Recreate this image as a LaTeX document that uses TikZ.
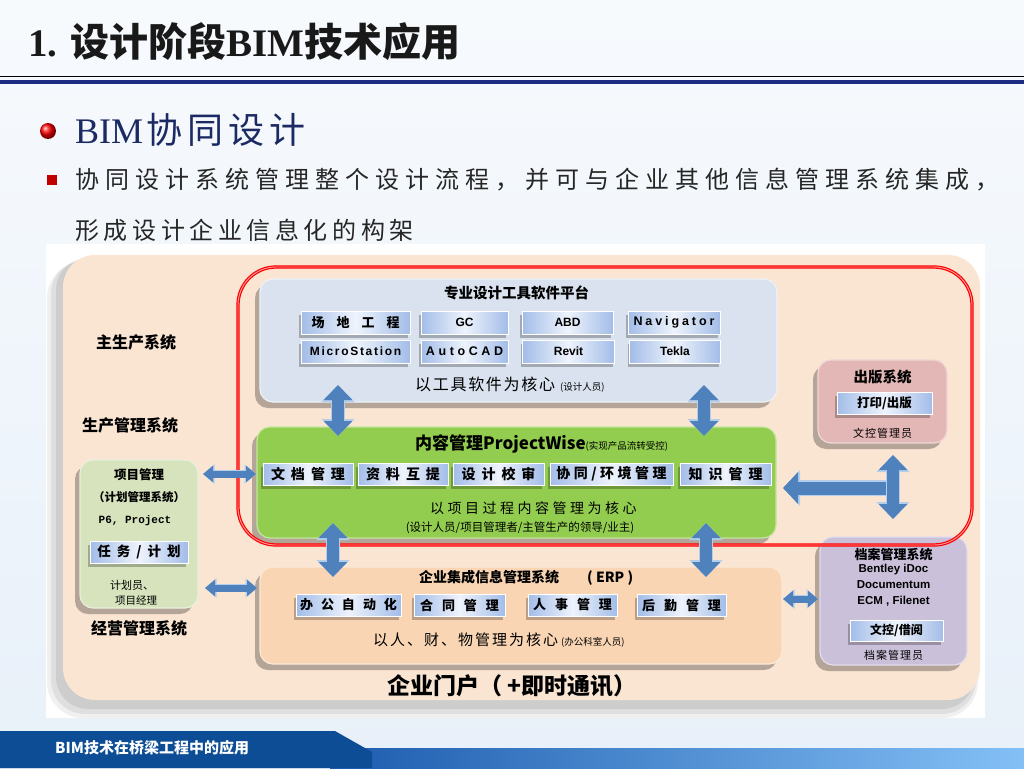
\documentclass[tikz,border=0pt]{standalone}
\usepackage{fontspec}
\setmainfont{Noto Sans CJK SC}
\newfontfamily\lserif{Liberation Serif}
\newfontfamily\lsans{Liberation Sans}
\newfontfamily\lmono{Liberation Mono}
\usetikzlibrary{arrows.meta,shadows}
\newcommand\fsz[1]{\fontsize{#1}{#1}\selectfont}
\newlength\myls
\def\myspc#1#2{\myls=#1\relax\myspcA#2\relax}
\def\myspcA#1{\ifx\relax#1\kern-\myls\else#1\kern\myls\expandafter\myspcA\fi}
\definecolor{bgtop}{HTML}{F7FAFD}
\definecolor{bgbot}{HTML}{E8F0F9}
\definecolor{navyline}{HTML}{1C2C82}
\definecolor{navytxt}{HTML}{1B2A62}
\definecolor{txtgray}{HTML}{262626}
\definecolor{sqred}{HTML}{C00000}
\definecolor{peach}{HTML}{FAE5D3}
\definecolor{toolbox}{HTML}{D9E2EE}
\definecolor{greenbox}{HTML}{92CD4F}
\definecolor{greenedge}{HTML}{C3E59C}
\definecolor{erpbox}{HTML}{F9D5B4}
\definecolor{pubbox}{HTML}{E3B7B6}
\definecolor{archbox}{HTML}{CBC0DA}
\definecolor{pmbox}{HTML}{D6E3BD}
\definecolor{btnedge}{HTML}{A3BDE8}
\definecolor{btnmid}{HTML}{EEF3FC}
\definecolor{arrowblue}{HTML}{4F81BD}
\definecolor{arrowedge}{HTML}{B3CDEB}
\definecolor{redpink}{HTML}{FF9C9C}
\definecolor{footdark}{HTML}{0D4D95}
\definecolor{footmid}{HTML}{1D5CAE}
\definecolor{footlight}{HTML}{84C0F6}
\tikzset{
  box/.style={rounded corners=13pt, line width=1.2pt, inner sep=0pt,
    drop shadow={shadow xshift=-5pt, shadow yshift=-6pt, opacity=0.28, fill=black}},
  btn/.style={draw=white, line width=0.5pt, left color=btnedge, right color=btnedge,
    middle color=btnmid, inner sep=0pt, minimum height=22pt, font=\bfseries, text=black,
    drop shadow={shadow xshift=-2pt, shadow yshift=-4pt, opacity=0.25, fill=black}},
  lbl/.style={inner sep=0pt, text=black},
  bigarr/.style={draw=arrowblue, line width=12pt,
    {Triangle[width=28pt,length=15pt]}-{Triangle[width=28pt,length=15pt]},
    preaction={draw=arrowedge, line width=14.5pt,
      {Triangle[width=32pt,length=17pt]}-{Triangle[width=32pt,length=17pt]}}},
  smallarr/.style={draw=arrowblue, line width=7pt,
    {Triangle[width=16pt,length=10pt]}-{Triangle[width=16pt,length=10pt]},
    preaction={draw=arrowedge, line width=8.5pt,
      {Triangle[width=19pt,length=11.5pt]}-{Triangle[width=19pt,length=11.5pt]}}},
  onearr/.style={draw=arrowblue, line width=13pt, -{Triangle[width=31pt,length=15pt]},
    preaction={draw=arrowedge, line width=15.5pt, -{Triangle[width=35pt,length=17pt]}}}
}
\begin{document}
\begin{tikzpicture}[x=1pt,y=-1pt]
\useasboundingbox (0,0) rectangle (1024,768);
% slide background
\shade[top color=bgtop, bottom color=bgbot] (0,0) rectangle (1024,768);
% title
\node[lbl, anchor=west, text=black!90] (title) at (28,42)
  {\fsz{39}\bfseries{\lserif 1. }设计阶段{\lserif BIM}技术应用};
\draw[black, line width=1.2pt] (0,76.5) -- (1024,76.5);
\draw[navyline, line width=4pt] (0,81.5) -- (1024,81.5);
% heading and bullet text
\shade[ball color=red] (48,131) circle (8);
\node[lbl, anchor=west, text=navytxt] (h2) at (75,130)
  {\fsz{36}{\lserif BIM}\kern3pt\myspc{5pt}{协同设计}};
\fill[sqred] (47,175) rectangle (57,185);
\node[lbl, anchor=west, text=txtgray] (p1) at (75,180)
  {\fsz{24}\myspc{6pt}{协同设计系统管理整个设计流程，并可与企业其他信息管理系统集成，}};
\node[lbl, anchor=west, text=txtgray] (p2) at (75,230)
  {\fsz{24}\myspc{4.6pt}{形成设计企业信息化的构架}};
% diagram panel
\fill[white] (46,244) rectangle (985,718);
\fill[black, opacity=.06, rounded corners=36pt] (47,262) rectangle (978,718);
\fill[black, opacity=.07, rounded corners=34pt] (51,260) rectangle (976,714);
\fill[black, opacity=.08, rounded corners=32pt] (56,258) rectangle (974,709);
\node[fill=peach, rounded corners=32pt, inner sep=0pt, minimum width=917pt, minimum height=445pt] (portal) at (521.5,477.5) {};
% left labels
\node[lbl] (zsc) at (136,342) {\fsz{16}\bfseries 主生产系统};
\node[lbl] (scgl) at (130,425) {\fsz{16}\bfseries 生产管理系统};
\node[lbl] (jygl) at (139,628) {\fsz{16}\bfseries 经营管理系统};
% boxes
\node[box, fill=toolbox, draw=white!55!toolbox, minimum width=517pt, minimum height=123pt] (tool) at (518.5,340.5) {};
\node[box, fill=greenbox, draw=greenedge, minimum width=519pt, minimum height=111pt] (pw) at (516.5,482.5) {};
\node[box, fill=erpbox, draw=white!45!erpbox, minimum width=522pt, minimum height=97pt] (erp) at (521,615.5) {};
\node[box, fill=pmbox, draw=white!45!pmbox, minimum width=118pt, minimum height=148pt] (pm) at (139,534) {};
\node[box, fill=pubbox, draw=white!45!pubbox, minimum width=129pt, minimum height=83pt] (pub) at (882.5,401.5) {};
\node[box, fill=archbox, draw=white!45!archbox, minimum width=147pt, minimum height=128pt] (arch) at (893.5,601) {};
% tool platform
\node[lbl] (tooltitle) at (516.5,293) {\fsz{14.5}\bfseries 专业设计工具软件平台};
\node[btn, minimum width=109pt, minimum height=23pt] (b11) at (355.5,322.5) {\fsz{13}\myspc{12pt}{场地工程}};
\node[btn, minimum width=87pt, minimum height=23pt] (b12) at (464.5,322.5) {\lsans\fsz{12}GC};
\node[btn, minimum width=91pt, minimum height=23pt] (b13) at (567.5,322.5) {\lsans\fsz{12}ABD};
\node[btn, minimum width=92pt, minimum height=23pt] (b14) at (674,322.5) {\lsans\fsz{12.5}\myspc{2.9pt}{Navigator}};
\node[btn, minimum width=109pt, minimum height=23pt] (b21) at (355.5,351.5) {\lsans\fsz{12}\myspc{1.7pt}{MicroStation}};
\node[btn, minimum width=87pt, minimum height=23pt] (b22) at (464.5,351.5) {\lsans\fsz{12.5}\myspc{3.6pt}{AutoCAD}};
\node[btn, minimum width=92pt, minimum height=23pt] (b23) at (568.5,351.5) {\lsans\fsz{12}Revit};
\node[btn, minimum width=91pt, minimum height=23pt] (b24) at (675,351.5) {\lsans\fsz{12}Tekla};
\node[lbl, anchor=west] (toolsub) at (415,385) {{\fsz{16}\myspc{1.7pt}{以工具软件为核心}}\kern5pt{\fsz{9.5}(设计人员)}};
% ProjectWise
\node[lbl, anchor=west] (pwtitle) at (415,444) {{\fsz{17}\bfseries 内容管理ProjectWise}{\fsz{9.5}(实现产品流转受控)}};
\node[btn, minimum width=90pt] (g1) at (308,474) {\fsz{14}\myspc{6pt}{文档管理}};
\node[btn, minimum width=90pt] (g2) at (403,474) {\fsz{14}\myspc{6pt}{资料互提}};
\node[btn, minimum width=91pt] (g3) at (498.5,474) {\fsz{14}\myspc{6pt}{设计校审}};
\node[btn, minimum width=123pt] (g4) at (611.5,474) {\fsz{14}\myspc{3.5pt}{协同/环境管理}};
\node[btn, minimum width=91pt] (g5) at (725.5,474) {\fsz{14}\myspc{6pt}{知识管理}};
\node[lbl, anchor=west] (pwsub1) at (430,508) {\fsz{14}\myspc{3.5pt}{以项目过程内容管理为核心}};
\node[lbl] (pwsub2) at (520,528) {\fsz{11.5}(设计人员/项目管理者/主管生产的领导/业主)};
% ERP
\node[lbl, anchor=west] (erptitle) at (419,578) {\fsz{14}\bfseries 企业集成信息管理系统\kern28pt( ERP )};
\node[btn, minimum width=105pt] (e1) at (348.5,605) {\fsz{13}\myspc{8pt}{办公自动化}};
\node[btn, minimum width=91pt] (e2) at (459.5,605) {\fsz{13}\myspc{9pt}{合同管理}};
\node[btn, minimum width=89pt] (e3) at (572.5,605) {\fsz{13}\myspc{9pt}{人事管理}};
\node[btn, minimum width=89pt] (e4) at (681.5,605) {\fsz{13}\myspc{9pt}{后勤管理}};
\node[lbl, anchor=west] (erpsub) at (373,640) {{\fsz{15}\myspc{2pt}{以人、财、物管理为核心}}\kern3pt{\fsz{9.5}(办公科室人员)}};
\node[lbl] (portaltxt) at (512,686) {\fsz{23}\bfseries 企业门户（ +即时通讯）};
% project management
\node[lbl] (pm1) at (139,475) {\fsz{12.5}\bfseries 项目管理};
\node[lbl] (pm2) at (139,497) {\fsz{11.5}\bfseries （计划管理系统）};
\node[lbl] (pm3) at (135,521) {\lmono\bfseries\fsz{11}P6, Project};
\node[btn, minimum width=98pt] (pmb) at (139,552) {\fsz{13.5}\myspc{6pt}{任务/计划}};
\node[lbl] (pm4) at (132,585) {\fsz{11}计划员、};
\node[lbl] (pm5) at (136,600) {\fsz{10.5}项目经理};
% publishing
\node[lbl] (pubt) at (882.5,377) {\fsz{14.5}\bfseries 出版系统};
\node[btn, minimum width=95pt] (pubb) at (884.5,403) {\fsz{12.5}打印/出版};
\node[lbl] (pubs) at (882.5,433) {\fsz{11}\myspc{1pt}{文控管理员}};
% archive
\node[lbl] (archt) at (893.5,555) {\fsz{13}\bfseries 档案管理系统};
\node[lbl] (arch1) at (893.5,570) {\lsans\bfseries\fsz{11.5}Bentley iDoc};
\node[lbl] (arch2) at (893.5,585) {\lsans\bfseries\fsz{11.5}Documentum};
\node[lbl] (arch3) at (893.5,601) {\lsans\bfseries\fsz{11.5}ECM , Filenet};
\node[btn, minimum width=93pt, minimum height=21pt] (archb) at (896.5,630.5) {\fsz{12}文控/借阅};
\node[lbl] (archs) at (893.5,655) {\fsz{11}\myspc{1pt}{档案管理员}};
% red collaboration frame
\draw[red, line width=1.2pt, double=redpink, double distance=0.9pt, rounded corners=38pt] (238,267) rectangle (972,545);
% arrows
\coordinate (v1a) at (338,385); \coordinate (v1b) at (338,436);
\coordinate (v2a) at (704,385); \coordinate (v2b) at (704,436);
\coordinate (v3a) at (333,523); \coordinate (v3b) at (333,577);
\coordinate (v4a) at (706,523); \coordinate (v4b) at (706,577);
\coordinate (h1a) at (203,474); \coordinate (h1b) at (256,474);
\coordinate (h2a) at (205,588); \coordinate (h2b) at (257,588);
\coordinate (h3a) at (783,599); \coordinate (h3b) at (818,599);
\coordinate (tj) at (893,488); \coordinate (tl) at (783,488);
\coordinate (tv1) at (893,455); \coordinate (tv2) at (893,519);
\draw[bigarr] (v1a) -- (v1b);
\draw[bigarr] (v2a) -- (v2b);
\draw[bigarr] (v3a) -- (v3b);
\draw[bigarr] (v4a) -- (v4b);
\draw[smallarr] (h1a) -- (h1b);
\draw[smallarr] (h2a) -- (h2b);
\draw[smallarr] (h3a) -- (h3b);
\draw[onearr] (tj) -- (tl);
\draw[bigarr] (tv1) -- (tv2);
% footer
\shade[left color=footmid, right color=footlight] (330,748) rectangle (1024,768);
\fill[footdark] (0,731) -- (335,731) -- (372,752) -- (372,768) -- (0,768) -- cycle;
\node[lbl, anchor=west, text=white] (foot) at (55,748) {\fsz{15}\bfseries BIM技术在桥梁工程中的应用};
\end{tikzpicture}
\end{document}
